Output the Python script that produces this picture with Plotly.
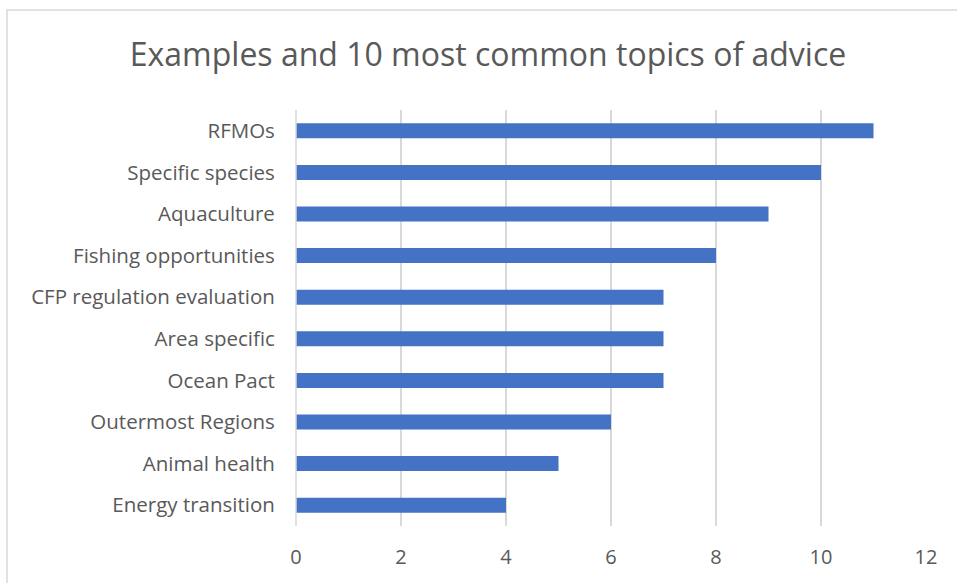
import plotly.graph_objects as go

categories = ["RFMOs", "Specific species", "Aquaculture", "Fishing opportunities",
              "CFP regulation evaluation", "Area specific", "Ocean Pact",
              "Outermost Regions", "Animal health", "Energy transition"]
values = [11, 10, 9, 8, 7, 7, 7, 6, 5, 4]
x_ticks = [0, 2, 4, 6, 8, 10, 12]
title_text = "Examples and 10 most common topics of advice"

# Plot bottom-up so the first category sits at the top
cats = categories[::-1]
vals = values[::-1]

fig = go.Figure(go.Bar(
    x=vals, y=cats, orientation="h",
    marker=dict(color="#4472C4", line=dict(width=0)),
    width=0.36,
))

W, H = 957, 583
ml, mr, mt, mb = 296, 31, 110, 57
pw, ph = W - ml - mr, H - mt - mb

def px2paper_x(px):
    return (px - ml) / pw

def px2paper_y(py):
    return (H - mb - py) / ph

FONT = "Open Sans, Noto Sans, sans-serif"

fig.update_layout(
    width=W, height=H,
    margin=dict(l=ml, r=mr, t=mt, b=mb),
    paper_bgcolor="white", plot_bgcolor="white",
    font=dict(family=FONT, color="#595959", size=21),
    title=dict(text=title_text, x=488 / W, xanchor="center", xref="container",
               y=1 - 55 / H, yanchor="middle", yref="container",
               font=dict(size=32, color="#595959", family=FONT)),
    xaxis=dict(range=[0, 12], tickvals=x_ticks, showgrid=True, gridcolor="#D9D9D9",
               gridwidth=1.5, zeroline=False, showline=False,
               ticks="outside", ticklen=13, tickcolor="rgba(0,0,0,0)",
               tickfont=dict(size=20, color="#595959")),
    yaxis=dict(showgrid=False, showline=False, zeroline=False,
               ticks="outside", ticklen=16, tickcolor="rgba(0,0,0,0)",
               tickfont=dict(size=20.5, color="#595959"),
               range=[-0.5, 9.5]),
    showlegend=False,
    shapes=[
        dict(type="line", xref="paper", yref="paper",
             x0=0, x1=0, y0=0, y1=1, line=dict(color="#D9D9D9", width=1.5)),
        dict(type="rect", xref="paper", yref="paper",
             x0=px2paper_x(7), x1=px2paper_x(W + 20),
             y0=px2paper_y(H + 20), y1=px2paper_y(10),
             line=dict(color="#D9D9D9", width=1.5), fillcolor="rgba(0,0,0,0)"),
    ],
)

fig.write_html("out.html", config={"displayModeBar": False},
               post_script="document.body.style.margin='0';")
